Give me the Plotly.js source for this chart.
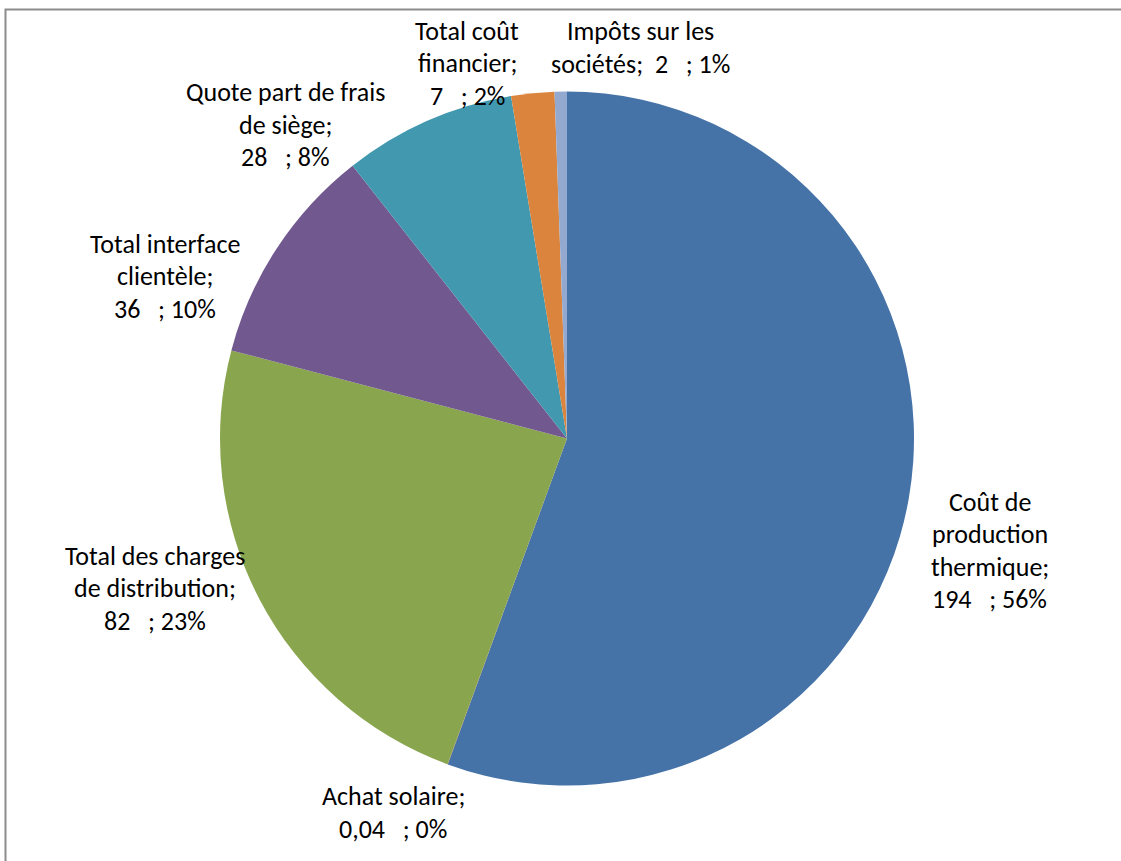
<!DOCTYPE html>
<html>
<head>
<meta charset="utf-8">
<script src="https://cdn.plot.ly/plotly-3.0.1.min.js"></script>
<style>
html,body{margin:0;padding:0;background:#fff;}
#chart{width:1121px;height:861px;}
</style>
</head>
<body>
<div id="chart"></div>
<script>
// ---- Data ----
const categories = [
  "Coût de production thermique",
  "Achat solaire",
  "Total des charges de distribution",
  "Total interface clientèle",
  "Quote part de frais de siège",
  "Total coût financier",
  "Impôts sur les sociétés"
];
const values = [194, 0.04, 82, 36, 28, 7, 2];
const valueLabels = ["194", "0,04", "82", "36", "28", "7", "2"];
const colors = ["#4572A7", "#AA4643", "#89A54E", "#71588F", "#4198AF", "#DB843D", "#93A9CF"];

// ---- Label layout (pixel centres, wrap width in chars, value on own line?) ----
const W = 1121, H = 861;
const labelLayout = [
  {cx: 990, cy: 550.5, wrap: 10, inline: false},
  {cx: 393, cy: 812.5, wrap: 14, inline: false},
  {cx: 155, cy: 588,   wrap: 17, inline: false},
  {cx: 165, cy: 276,   wrap: 15, inline: false},
  {cx: 285, cy: 124.5, wrap: 19, inline: false},
  {cx: 467, cy: 63.5,  wrap: 10, inline: false},
  {cx: 640, cy: 47.5,  wrap: 14, inline: true}
];
const lineGap = 32.5;
const fontFamily = "Carlito, Calibri, Lato, sans-serif";
const fontSize = 26;

const total = values.reduce((a, b) => a + b, 0);
const NB = "\u00A0";

function wrapWords(text, width) {
  const words = text.split(" ");
  const lines = [];
  let cur = "";
  words.forEach(w => {
    if (cur === "") cur = w;
    else if ((cur + " " + w).length <= width) cur += " " + w;
    else { lines.push(cur); cur = w; }
  });
  if (cur) lines.push(cur);
  return lines;
}

const annotations = [];
categories.forEach((cat, i) => {
  const L = labelLayout[i];
  const pct = Math.round(values[i] / total * 100) + "%";
  const valTxt = valueLabels[i] + NB + NB + NB + "; " + pct;
  let lines = wrapWords(cat + ";", L.wrap);
  if (L.inline) lines[lines.length - 1] += NB + NB + valTxt;
  else lines.push(valTxt);
  const n = lines.length;
  lines.forEach((ln, k) => {
    const py = L.cy + (k - (n - 1) / 2) * lineGap;
    annotations.push({
      xref: "paper", yref: "paper",
      x: L.cx / W, y: 1 - py / H,
      xanchor: "center", yanchor: "middle",
      text: ln.replace(/ /g, NB),
      showarrow: false,
      font: {family: fontFamily, size: fontSize, color: "#000"}
    });
  });
});

const cx = 567, cy = 438.5, r = 347;
const trace = {
  type: "pie",
  labels: categories,
  values: values,
  sort: false,
  direction: "clockwise",
  rotation: 0,
  textinfo: "none",
  hoverinfo: "label+value+percent",
  marker: {colors: colors, line: {width: 0}},
  domain: {x: [(cx - r) / W, (cx + r) / W], y: [1 - (cy + r) / H, 1 - (cy - r) / H]},
  showlegend: false
};

const layout = {
  width: W, height: H,
  margin: {l: 0, r: 0, t: 0, b: 0},
  paper_bgcolor: "#fff",
  showlegend: false,
  annotations: annotations,
  shapes: [{
    type: "rect", xref: "paper", yref: "paper",
    x0: 5.5 / W, x1: 1.05, y0: -0.05, y1: 1 - 9.5 / H,
    line: {color: "#8C8C8C", width: 2}, fillcolor: "rgba(0,0,0,0)", layer: "below"
  }]
};

Plotly.newPlot("chart", [trace], layout, {displayModeBar: false, staticPlot: true});
</script>
</body>
</html>
